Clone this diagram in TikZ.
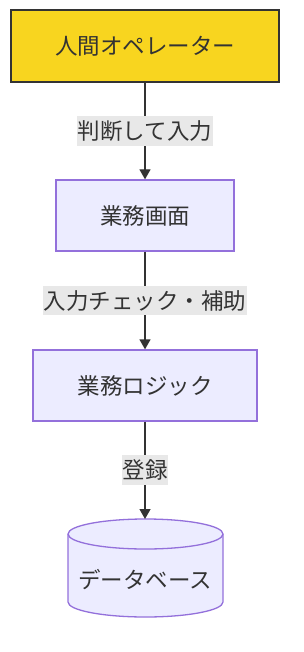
\documentclass[tikz,border=0pt]{standalone}
\usepackage{fontspec}
\setmainfont{Noto Sans CJK JP}
\usetikzlibrary{arrows.meta}
\definecolor{txt}{HTML}{333333}
\definecolor{gold}{HTML}{F8D51F}
\definecolor{lav}{HTML}{ECECFF}
\definecolor{purp}{HTML}{9370DB}
\definecolor{lblbg}{HTML}{E8E8E8}
\tikzset{
  proc/.style={draw=purp, fill=lav, line width=1.3pt, inner sep=0pt, text=txt, font=\fontsize{22.5}{25}\selectfont},
  topbox/.style={draw=txt, fill=gold, line width=1.3pt, inner sep=0pt, text=txt, font=\fontsize{22.5}{25}\selectfont},
  lbl/.style={fill=lblbg, inner xsep=0.5pt, inner ysep=4.5pt, text=txt, font=\fontsize{22.5}{25}\selectfont},
  conn/.style={draw=txt, line width=1.3pt, -{Triangle[width=11pt,length=10pt]}},
}
\begin{document}
\begin{tikzpicture}[x=1pt,y=-1pt]
\useasboundingbox (0,0) rectangle (303,652);
\node[topbox, minimum width=268pt, minimum height=72pt] (op) at (145,46) {人間オペレーター};
\node[proc, minimum width=178pt, minimum height=71pt] (ui) at (145,215.5) {業務画面};
\node[proc, minimum width=224pt, minimum height=71pt] (logic) at (145,385.5) {業務ロジック};
% cylinder
\coordinate (dbtop) at (145,519);
\path[draw=purp, fill=lav, line width=1.3pt]
  (68,534) arc[start angle=180, end angle=360, x radius=77.5, y radius=15]
  -- (223,602) arc[start angle=0, end angle=180, x radius=77.5, y radius=15] -- cycle;
\draw[purp, line width=1.3pt] (68,534) arc[start angle=180, end angle=0, x radius=77.5, y radius=15];
\node[text=txt, font=\fontsize{22.5}{25}\selectfont, inner sep=0pt] (db) at (145,580) {データベース};
\draw[conn] (op) -- node[lbl] (l1) {判断して入力} (ui);
\draw[conn] (ui) -- node[lbl] (l2) {入力チェック・補助} (logic);
\draw[conn] (logic) -- node[lbl] (l3) {登録} (dbtop);
\end{tikzpicture}
\end{document}
